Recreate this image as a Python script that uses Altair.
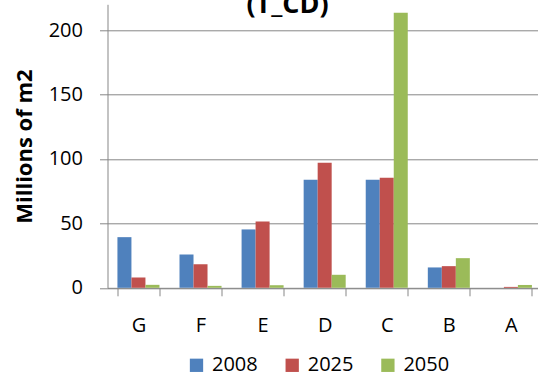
import altair as alt
import pandas as pd

# Energy classes and floor area (millions of m2) per year
classes = ["G", "F", "E", "D", "C", "B", "A"]
years = ["2008", "2025", "2050"]
area_2008 = [39.3, 25.9, 45.3, 83.8, 83.8, 15.8, 0.0]
area_2025 = [8.0, 18.2, 51.5, 97.0, 85.4, 16.8, 0.7]
area_2050 = [2.3, 1.5, 2.0, 10.1, 213.4, 23.0, 2.2]
colors = ["#4F81BD", "#C0504D", "#9BBB59"]
y_ticks = [0, 50, 100, 150, 200]
title_text = ["(T_CD)"]

rows = []
for year, values in zip(years, [area_2008, area_2025, area_2050]):
    for cls, v in zip(classes, values):
        rows.append({"class": cls, "year": year, "area": v})
df = pd.DataFrame(rows)

FONT = "Open Sans"
GRID = "#878787"

bars = alt.Chart(df).mark_bar().encode(
    x=alt.X(
        "class:N",
        sort=classes,
        title=None,
        scale=alt.Scale(paddingInner=0.323, paddingOuter=0.129, align=0.62, round=False),
        axis=alt.Axis(
            labelAngle=0,
            tickBand="extent",
            tickSize=8,
            tickColor=GRID,
            domainColor=GRID,
            labelFont=FONT,
            labelFontSize=20,
            labelPadding=19.5,
            labelColor="black",
            grid=False,
        ),
    ),
    xOffset=alt.XOffset("year:N", sort=years, scale=alt.Scale(paddingInner=0, paddingOuter=0)),
    y=alt.Y(
        "area:Q",
        scale=alt.Scale(domain=[0, 220], nice=False),
        axis=alt.Axis(
            values=y_ticks,
            title="Millions of m2",
            grid=True,
            gridColor=GRID,
            gridWidth=1,
            domainColor=GRID,
            tickColor=GRID,
            tickSize=8,
            labelFont=FONT,
            labelFontSize=20,
            labelPadding=17,
            labelColor="black",
            titleFont=FONT,
            titleFontSize=22,
            titleFontWeight="bold",
            titleColor="black",
            titleAngle=270,
            titleBaseline="alphabetic",
            titleAlign="center",
            titleX=-76.5,
            titleY=141.75,
        ),
    ),
    color=alt.Color(
        "year:N",
        sort=years,
        scale=alt.Scale(domain=years, range=colors),
        legend=alt.Legend(
            orient="none",
            legendX=79,
            legendY=351,
            direction="horizontal",
            title=None,
            symbolType="square",
            symbolSize=177,
            symbolStrokeWidth=0,
            symbolOpacity=1,
            labelFont=FONT,
            labelFontSize=20,
            labelColor="black",
            labelOffset=5.5,
            columnPadding=23.7,
            padding=0,
        ),
    ),
)

heading = alt.Chart(pd.DataFrame({"t": title_text})).mark_text(
    font=FONT, fontSize=27, fontWeight="bold", baseline="alphabetic", align="center", color="black"
).encode(x=alt.value(180), y=alt.value(8.4), text="t:N")

chart = (
    alt.layer(bars, heading)
    .properties(
        width=430.5,
        height=283.5,
        autosize=alt.AutoSizeParams(type="none"),
        padding={"left": 107.5, "top": 4.3, "right": 0, "bottom": 88.2},
        background="white",
    )
    .configure_view(strokeWidth=0)
)

chart.save("out.html", embed_options={"renderer": "svg", "actions": False})
